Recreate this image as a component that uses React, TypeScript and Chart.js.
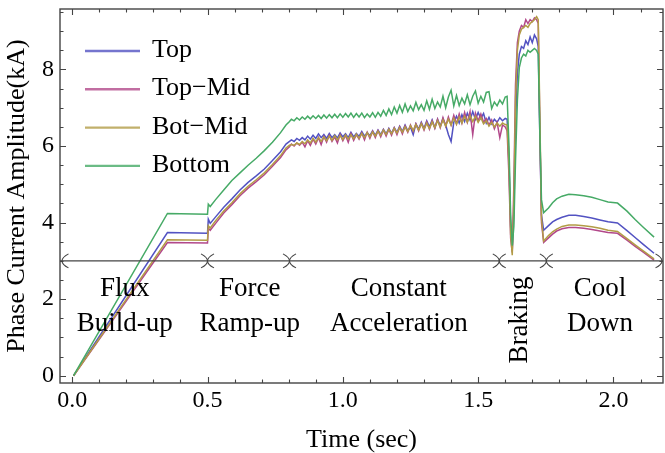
import React, { useEffect, useRef } from "react";
import { Chart, registerables } from "chart.js";

Chart.register(...registerables);

const FONT = '"Liberation Serif", "Times New Roman", serif';

// ---- data (time in seconds, current in kA) ----
const time = [
  // flux build-up + force ramp-up
  0.005, 0.352, 0.5, 0.503, 0.51, 0.53, 0.56, 0.59, 0.62, 0.65, 0.68, 0.71, 0.74, 0.77, 0.79, 0.803,
  // constant acceleration
  0.81, 0.82, 0.83, 0.84, 0.85, 0.86, 0.87, 0.88, 0.89, 0.90,
  0.91, 0.92, 0.93, 0.94, 0.95, 0.96, 0.97, 0.98, 0.99, 1.00,
  1.01, 1.02, 1.03, 1.04, 1.05, 1.06, 1.07, 1.08, 1.09, 1.10,
  1.11, 1.12, 1.13, 1.14, 1.15, 1.16, 1.17, 1.18, 1.19, 1.20,
  1.21, 1.22, 1.23, 1.24, 1.25, 1.26, 1.27, 1.28, 1.29, 1.30,
  1.31, 1.32, 1.33, 1.34, 1.35, 1.36, 1.37, 1.38, 1.39, 1.40,
  1.41, 1.42, 1.43, 1.44, 1.45, 1.46, 1.47, 1.48, 1.49, 1.50,
  1.51, 1.52, 1.53, 1.54, 1.55, 1.56, 1.57, 1.58, 1.59, 1.60,
  // braking
  1.607, 1.614, 1.62, 1.626, 1.632, 1.638, 1.645, 1.652, 1.66, 1.668,
  1.676, 1.684, 1.692, 1.7, 1.708, 1.716, 1.722, 1.728, 1.734, 1.742,
  // cool down
  1.76, 1.775, 1.79, 1.81, 1.835, 1.86, 1.89, 1.92, 1.95, 1.98, 2.015, 2.05, 2.08, 2.11, 2.15,
];

const topCurrent = [
  0, 3.74, 3.72, 4.09, 3.98, 4.15, 4.40, 4.62, 4.85, 5.05, 5.22, 5.40, 5.62, 5.85, 6.05, 6.12,
  6.16, 6.12, 6.20, 6.15, 6.22, 6.16, 6.26, 6.18, 6.28, 6.20,
  6.32, 6.22, 6.30, 6.20, 6.33, 6.22, 6.30, 6.21, 6.34, 6.24,
  6.32, 6.22, 6.36, 6.24, 6.33, 6.25, 6.38, 6.26, 6.35, 6.27,
  6.40, 6.28, 6.42, 6.30, 6.44, 6.32, 6.46, 6.33, 6.48, 6.36,
  6.52, 6.38, 6.55, 6.40, 6.50, 6.30, 6.58, 6.44, 6.62, 6.46,
  6.66, 6.50, 6.68, 6.48, 6.70, 6.52, 6.72, 6.55, 6.30, 6.12,
  6.62, 6.78, 6.60, 6.82, 6.64, 6.86, 6.68, 6.90, 6.70, 6.88,
  6.72, 6.85, 6.60, 6.75, 6.58, 6.70, 6.62, 6.74, 6.66, 6.72,
  6.70, 5.6, 3.9, 3.3, 4.3, 6.6, 7.9, 8.4, 8.6, 8.55,
  8.75, 8.65, 8.85, 8.7, 8.9, 8.8, 8.6, 6.2, 4.2, 3.80,
  3.92, 4.02, 4.08, 4.14, 4.19, 4.19, 4.16, 4.12, 4.07, 4.02, 3.99, 3.79, 3.61, 3.43, 3.20,
];

const topMidCurrent = [
  0, 3.48, 3.47, 3.85, 3.80, 3.98, 4.25, 4.47, 4.70, 4.90, 5.07, 5.25, 5.47, 5.70, 5.90, 5.98,
  6.05, 6.00, 6.08, 6.02, 6.10, 5.98, 6.14, 6.02, 6.18, 6.05,
  6.22, 6.04, 6.25, 6.10, 6.28, 6.12, 6.24, 6.08, 6.30, 6.14,
  6.28, 6.10, 6.32, 6.15, 6.30, 6.18, 6.34, 6.16, 6.36, 6.20,
  6.38, 6.22, 6.40, 6.24, 6.42, 6.26, 6.44, 6.28, 6.47, 6.30,
  6.50, 6.32, 6.52, 6.36, 6.55, 6.38, 6.58, 6.40, 6.60, 6.42,
  6.63, 6.44, 6.66, 6.46, 6.70, 6.48, 6.74, 6.52, 6.76, 6.55,
  6.80, 6.58, 6.84, 6.60, 6.88, 6.62, 6.90, 6.30, 6.86, 6.66,
  6.84, 6.62, 6.72, 6.55, 6.68, 6.45, 6.62, 6.22, 6.55, 6.50,
  6.40, 5.2, 3.6, 3.22, 5.0, 7.6, 8.7, 9.0, 9.15, 9.1,
  9.3, 9.2, 9.3, 9.25, 9.35, 9.3, 9.2, 6.5, 4.0, 3.48,
  3.60, 3.70, 3.78, 3.84, 3.87, 3.87, 3.85, 3.82, 3.78, 3.74, 3.72, 3.54, 3.38, 3.23, 3.02,
];

const botMidCurrent = [
  0, 3.55, 3.54, 3.92, 3.86, 4.05, 4.30, 4.52, 4.75, 4.95, 5.12, 5.30, 5.52, 5.75, 5.95, 6.02,
  6.04, 6.02, 6.08, 6.04, 6.12, 6.06, 6.16, 6.08, 6.20, 6.10,
  6.22, 6.12, 6.24, 6.14, 6.26, 6.15, 6.27, 6.16, 6.28, 6.17,
  6.29, 6.18, 6.30, 6.19, 6.31, 6.20, 6.33, 6.22, 6.35, 6.24,
  6.37, 6.26, 6.39, 6.28, 6.42, 6.30, 6.44, 6.32, 6.46, 6.34,
  6.48, 6.36, 6.50, 6.38, 6.53, 6.40, 6.56, 6.42, 6.58, 6.44,
  6.60, 6.46, 6.63, 6.48, 6.66, 6.50, 6.68, 6.52, 6.70, 6.55,
  6.73, 6.57, 6.76, 6.60, 6.78, 6.62, 6.80, 6.64, 6.78, 6.62,
  6.74, 6.58, 6.66, 6.52, 6.62, 6.50, 6.60, 6.52, 6.60, 6.56,
  6.55, 5.5, 3.7, 3.15, 4.6, 7.2, 8.5, 8.9, 9.05, 9.1,
  9.15, 9.1, 9.2, 9.25, 9.3, 9.38, 9.3, 6.8, 4.1, 3.52,
  3.66, 3.76, 3.83, 3.90, 3.94, 3.94, 3.92, 3.89, 3.85, 3.80, 3.77, 3.58, 3.42, 3.26, 3.05,
];

const bottomCurrent = [
  0, 4.24, 4.22, 4.48, 4.42, 4.60, 4.85, 5.10, 5.30, 5.50, 5.68, 5.88, 6.10, 6.35, 6.55, 6.64,
  6.70, 6.66, 6.74, 6.68, 6.76, 6.70, 6.78, 6.71, 6.79, 6.72,
  6.80, 6.72, 6.81, 6.73, 6.82, 6.74, 6.83, 6.74, 6.84, 6.75,
  6.85, 6.76, 6.86, 6.75, 6.85, 6.76, 6.86, 6.74, 6.84, 6.76,
  6.87, 6.75, 6.88, 6.78, 6.93, 6.80, 6.97, 6.82, 7.02, 6.86,
  7.06, 6.88, 7.10, 6.90, 7.05, 6.92, 7.14, 6.95, 7.08, 6.93,
  7.18, 6.96, 7.22, 6.98, 7.15, 7.02, 7.30, 7.00, 7.28, 7.46,
  7.05, 7.32, 7.06, 7.25, 7.10, 7.34, 7.08, 7.30, 7.44, 7.12,
  7.30, 7.15, 7.40, 7.42, 6.98, 7.15, 7.05, 7.20, 7.10, 7.28,
  7.30, 6.0, 4.2, 3.4, 3.9, 5.6, 7.2, 8.05, 8.3, 8.4,
  8.35, 8.5, 8.45, 8.5, 8.55, 8.5, 8.4, 6.3, 4.6, 4.26,
  4.38, 4.52, 4.62, 4.69, 4.74, 4.73, 4.70, 4.66, 4.60, 4.54, 4.51, 4.30, 4.08, 3.88, 3.62,
];

const seriesNames = ["Top", "Top\u2212Mid", "Bot\u2212Mid", "Bottom"];
const seriesValues = [topCurrent, topMidCurrent, botMidCurrent, bottomCurrent];
const seriesColors = ["#5252c2", "#b2488a", "#b29c46", "#46aa66"];

const phaseLevel = 3;
const phaseBoundaries = [0.5, 0.803, 1.578, 1.752];
const phaseLabels = [["Flux", "Build-up"], ["Force", "Ramp-up"], ["Constant", "Acceleration"], ["Cool", "Down"]];
const phaseLabelCenters = [0.194, 0.656, 1.207, 1.95];
const brakingLabel = "Braking";
const brakingPosition = 1.68;

const xTickValues = [0, 0.5, 1, 1.5, 2];
const yTickValues = [0, 2, 4, 6, 8];
const xRange = [-0.045, 2.183];
const yRange = [-0.19, 9.58];

const FRAME = "#444";

function drawArc(ctx: CanvasRenderingContext2D, px: number, py: number, dir: number) {
  // dir = -1: ")" shape touching centre from the left; +1: "(" from the right
  const w = 6.5, h = 7;
  ctx.beginPath();
  ctx.moveTo(px + dir * w, py - h);
  ctx.quadraticCurveTo(px - dir * w, py, px + dir * w, py + h);
  ctx.stroke();
}

function noScalePadding(s: any) {
  s.paddingTop = 0;
  s.paddingBottom = 0;
  s.paddingLeft = 0;
  s.paddingRight = 0;
}

const overlayPlugin = {
  id: "overlay",
  afterDatasetsDraw(chart: any) {
    const { ctx, chartArea: a, scales } = chart;
    const x = scales.x, y = scales.y;
    ctx.save();
    ctx.strokeStyle = FRAME;
    ctx.lineWidth = 1.4;
    ctx.strokeRect(a.left, a.top, a.right - a.left, a.bottom - a.top);

    // inward ticks
    ctx.lineWidth = 1.1;
    ctx.beginPath();
    for (let i = 0; i <= 21; i++) {
      const v = i / 10;
      const major = i % 5 === 0;
      const len = major ? 6 : 3.5;
      const px = Math.round(x.getPixelForValue(v)) + 0.5;
      ctx.moveTo(px, a.bottom); ctx.lineTo(px, a.bottom - len);
      ctx.moveTo(px, a.top); ctx.lineTo(px, a.top + len);
    }
    for (let i = 0; i <= 19; i++) {
      const v = i / 2;
      const major = i % 4 === 0;
      const len = major ? 6 : 3.5;
      const py = Math.round(y.getPixelForValue(v)) + 0.5;
      ctx.moveTo(a.left, py); ctx.lineTo(a.left + len, py);
      ctx.moveTo(a.right, py); ctx.lineTo(a.right - len, py);
    }
    ctx.stroke();

    // phase line
    const py = y.getPixelForValue(phaseLevel);
    ctx.lineWidth = 1.4;
    ctx.beginPath();
    ctx.moveTo(a.left, py); ctx.lineTo(a.right, py);
    ctx.stroke();
    ctx.lineWidth = 1.1;
    drawArc(ctx, a.left + 2, py, 1);
    drawArc(ctx, a.right - 1, py, -1);
    phaseBoundaries.forEach((t) => {
      const px = x.getPixelForValue(t);
      drawArc(ctx, px, py, -1);
      drawArc(ctx, px, py, 1);
    });

    // phase labels
    ctx.fillStyle = "#000";
    ctx.font = `27px ${FONT}`;
    ctx.textAlign = "center";
    ctx.textBaseline = "alphabetic";
    phaseLabels.forEach((lines, i) => {
      const cx = x.getPixelForValue(phaseLabelCenters[i]);
      lines.forEach((s, j) => ctx.fillText(s, cx, py + 35 * (j + 1)));
    });
    ctx.save();
    ctx.translate(x.getPixelForValue(brakingPosition), py + 59);
    ctx.rotate(-Math.PI / 2);
    ctx.fillText(brakingLabel, 0, 0);
    ctx.restore();

    // legend
    ctx.font = `26px ${FONT}`;
    ctx.textAlign = "left";
    chart.data.datasets.forEach((ds: any, i: number) => {
      const ly = a.top + 42 + i * 38.3;
      ctx.strokeStyle = ds.borderColor;
      ctx.globalAlpha = 0.8;
      ctx.lineWidth = 2.4;
      ctx.beginPath();
      ctx.moveTo(a.left + 25, ly); ctx.lineTo(a.left + 80, ly);
      ctx.stroke();
      ctx.globalAlpha = 1;
      ctx.fillStyle = "#000";
      ctx.fillText(ds.label, a.left + 92, ly + 6);
    });
    ctx.restore();
  },
};

export default function App() {
  const ref = useRef<HTMLCanvasElement | null>(null);
  useEffect(() => {
    if (!ref.current) return;
    const datasets = seriesNames.map((name, i) => ({
      label: name,
      data: time.map((t, k) => ({ x: t, y: seriesValues[i][k] })),
      borderColor: seriesColors[i],
      backgroundColor: seriesColors[i],
      borderWidth: 1.5,
      pointRadius: 0,
      tension: 0,
      fill: false,
      order: seriesNames.length - i,
    }));
    const chart = new Chart(ref.current, {
      type: "line",
      data: { datasets },
      options: {
        animation: false,
        responsive: false,
        maintainAspectRatio: false,
        layout: { padding: { top: 9, right: 2, left: 0, bottom: 0 } },
        plugins: { legend: { display: false }, tooltip: { enabled: false } },
        scales: {
          x: {
            type: "linear",
            min: xRange[0],
            max: xRange[1],
            grid: { display: false, drawTicks: false },
            border: { display: false },
            afterBuildTicks: (s: any) => { s.ticks = xTickValues.map((v) => ({ value: v })); },
            afterFit: (s: any) => { s.height = 70; noScalePadding(s); },
            ticks: {
              font: { family: FONT, size: 24, lineHeight: 1 },
              color: "#000",
              padding: 6,
              maxRotation: 0,
              autoSkip: false,
              callback: (v: any) => Number(v).toFixed(1),
            },
            title: {
              display: true,
              text: "Time (sec)",
              color: "#000",
              font: { family: FONT, size: 26, lineHeight: 1 },
              padding: { top: 0, bottom: 0 },
            },
          },
          y: {
            type: "linear",
            min: yRange[0],
            max: yRange[1],
            grid: { display: false, drawTicks: false },
            border: { display: false },
            afterBuildTicks: (s: any) => { s.ticks = yTickValues.map((v) => ({ value: v })); },
            afterFit: (s: any) => { s.width = 60; noScalePadding(s); },
            ticks: {
              font: { family: FONT, size: 24, lineHeight: 1 },
              color: "#000",
              padding: 6,
              callback: (v: any) => String(v),
            },
            title: {
              display: true,
              text: "Phase Current Amplitude(kA)",
              color: "#000",
              font: { family: FONT, size: 26, lineHeight: 1 },
              padding: { top: 4, bottom: 0 },
            },
          },
        },
      },
      plugins: [overlayPlugin],
    } as any);
    return () => chart.destroy();
  }, []);
  return (
    <div style={{ position: "fixed", left: 0, top: 0, width: 665, height: 453, background: "#fff" }}>
      <canvas ref={ref} width={665} height={453} style={{ display: "block", width: 665, height: 453 }} />
    </div>
  );
}
